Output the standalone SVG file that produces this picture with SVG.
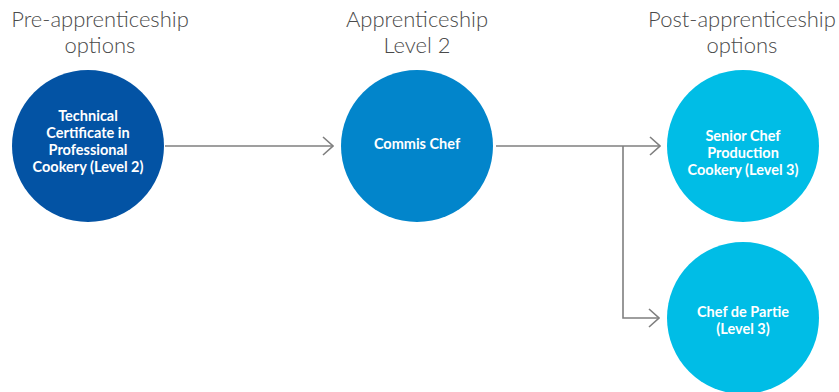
<svg xmlns="http://www.w3.org/2000/svg" width="839" height="392" viewBox="0 0 839 392">
  <defs>
    <marker id="chev" viewBox="0 0 12 20" refX="11" refY="10" markerWidth="12" markerHeight="20" markerUnits="userSpaceOnUse" orient="auto">
      <path d="M1 1 L11 10 L1 19" fill="none" stroke="#7f7f7f" stroke-width="1.6"/>
    </marker>
  </defs>
  <style>
    .head { font-family: Lato, "Liberation Sans", sans-serif; font-weight: 300; font-size: 22px; fill: #4a4a4a; text-anchor: middle; }
    .lbl { font-family: Lato, "Liberation Sans", sans-serif; font-weight: 700; font-size: 14.5px; fill: #ffffff; text-anchor: middle; }
    .edge { fill: none; stroke: #7f7f7f; stroke-width: 1.6; }
  </style>
  <rect width="839" height="392" fill="#ffffff"/>

  <!-- column headings -->
  <g id="headings">
    <text class="head" x="100" y="27">Pre-apprenticeship</text>
    <text class="head" x="100" y="53">options</text>
    <text class="head" x="417" y="27">Apprenticeship</text>
    <text class="head" x="417" y="53">Level 2</text>
    <text class="head" x="742" y="27">Post-apprenticeship</text>
    <text class="head" x="742" y="53">options</text>
  </g>

  <!-- connectors -->
  <g id="connectors">
    <path class="edge" d="M165 146 H333" marker-end="url(#chev)"/>
    <path class="edge" d="M496 146 H660" marker-end="url(#chev)"/>
    <path class="edge" d="M623 146 V318 H659" marker-end="url(#chev)"/>
  </g>

  <g id="technical-certificate">
    <circle cx="88" cy="146" r="76" fill="#0353a4"/>
    <text class="lbl" x="88" y="121">Technical</text>
    <text class="lbl" x="88" y="138">Certificate in</text>
    <text class="lbl" x="88" y="155">Professional</text>
    <text class="lbl" x="88" y="172">Cookery (Level 2)</text>
  </g>

  <g id="commis-chef">
    <circle cx="417" cy="146" r="76" fill="#0285cb"/>
    <text class="lbl" x="417" y="149">Commis Chef</text>
  </g>

  <g id="senior-chef">
    <circle cx="743" cy="146" r="76" fill="#00bde6"/>
    <text class="lbl" x="743" y="141">Senior Chef</text>
    <text class="lbl" x="743" y="158">Production</text>
    <text class="lbl" x="743" y="175">Cookery (Level 3)</text>
  </g>

  <g id="chef-de-partie">
    <circle cx="743" cy="318" r="76" fill="#00bde6"/>
    <text class="lbl" x="743" y="317">Chef de Partie</text>
    <text class="lbl" x="743" y="334">(Level 3)</text>
  </g>
</svg>
